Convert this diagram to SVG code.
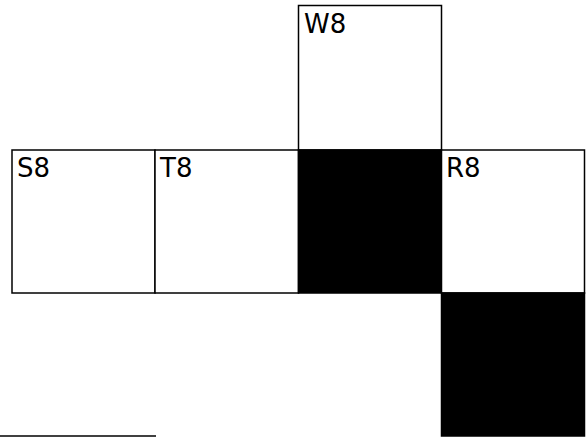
<svg xmlns="http://www.w3.org/2000/svg" width="587" height="438" viewBox="0 0 587 438">
<style>
.cell{fill:#fff;stroke:#000;stroke-width:1.5}
.blk{fill:#000;stroke:#000;stroke-width:1.5}
.lbl{font-family:"DejaVu Sans",Verdana,sans-serif;font-size:26px;fill:#000}
</style>
<rect width="587" height="438" fill="#fff"/>
<g id="W8"><rect class="cell" x="298.5" y="5.5" width="143" height="144.5"/><text class="lbl" x="304" y="33">W8</text></g>
<g id="S8"><rect class="cell" x="12" y="150" width="143" height="143"/><text class="lbl" x="17" y="177">S8</text></g>
<g id="T8"><rect class="cell" x="155" y="150" width="143.5" height="143"/><text class="lbl" x="160" y="177">T8</text></g>
<g id="black1"><rect class="blk" x="298.5" y="150" width="143" height="143"/></g>
<g id="R8"><rect class="cell" x="441.5" y="150" width="143" height="143"/><text class="lbl" x="446" y="177">R8</text></g>
<g id="black2"><rect class="blk" x="441.5" y="293" width="143" height="143"/></g>
<g id="connectors"><line x1="0" y1="436" x2="156" y2="436" stroke="#000" stroke-width="1.5"/></g>
</svg>
